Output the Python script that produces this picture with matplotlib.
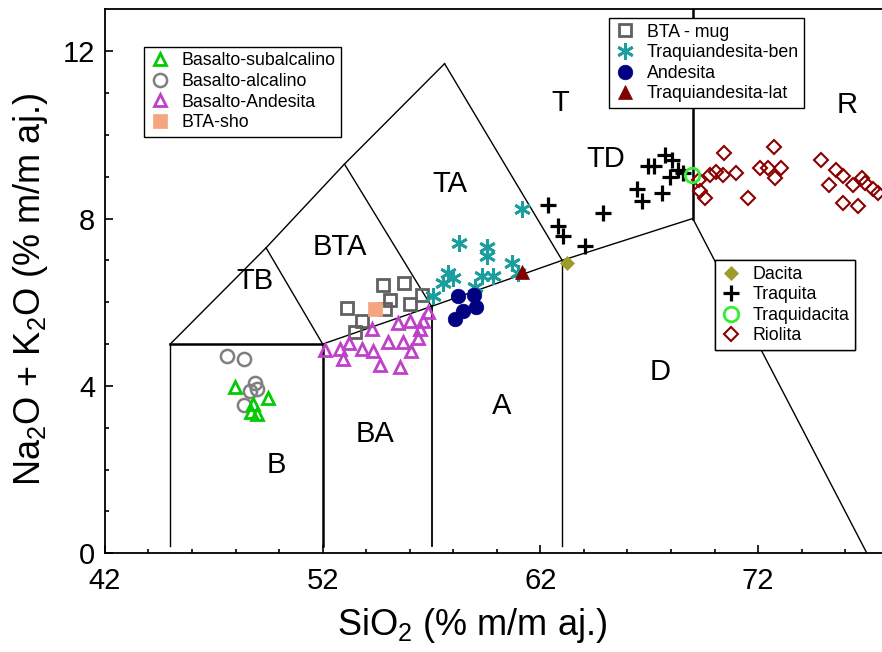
import matplotlib
matplotlib.use("Agg")
import matplotlib.pyplot as plt
from matplotlib.lines import Line2D

plt.rcParams["font.family"] = ["Liberation Sans", "DejaVu Sans"]
plt.rcParams["mathtext.fontset"] = "custom"
plt.rcParams["mathtext.rm"] = "Liberation Sans"
plt.rcParams["mathtext.it"] = "Liberation Sans:italic"
plt.rcParams["mathtext.bf"] = "Liberation Sans:bold"

# --- TAS boundaries (SiO2, Na2O+K2O) ---
tas_lines = [
    ([45, 45], [0.17, 5]),
    ([52, 52], [0.17, 5]),
    ([57, 57], [0.17, 5.9]),
    ([63, 63], [0.17, 7]),
    ([45, 52], [5, 5]),
    ([52, 57, 63, 69], [5, 5.9, 7, 8]),
    ([69, 77], [8, 0]),
    ([69, 69], [8, 13]),
    ([45, 49.4, 53, 57.6], [5, 7.3, 9.3, 11.7]),
    ([49.4, 52], [7.3, 5]),
    ([53, 57], [9.3, 5.9]),
    ([57.6, 63], [11.7, 7]),
]
tas_widths = [1, 1.8, 1.3, 1, 1.8, 1, 1, 1.8, 1, 1, 1, 1]

region_names = ["TB", "BTA", "TA", "T", "TD", "R", "B", "BA", "A", "D"]
region_x = [48.9, 52.8, 57.85, 62.9, 65.0, 76.1, 49.85, 54.4, 60.2, 67.5]
region_y = [6.5, 7.33, 8.82, 10.75, 9.42, 10.72, 2.1, 2.84, 3.53, 4.33]

# --- samples ---
bas_sub_x = [47.97, 49.49, 48.80, 48.71, 48.98]
bas_sub_y = [3.97, 3.70, 3.56, 3.37, 3.32]

bas_alc_x = [47.6, 48.39, 48.89, 48.66, 48.39, 49.0]
bas_alc_y = [4.71, 4.64, 4.06, 3.87, 3.54, 3.92]

bas_and_x = [52.11, 52.79, 52.93, 53.21, 53.81, 54.26, 54.31, 54.63, 55.00,
             55.46, 55.69, 56.01, 55.55, 56.06, 56.38, 56.47, 56.61, 56.84]
bas_and_y = [4.86, 4.88, 4.64, 5.02, 4.88, 5.36, 4.83, 4.49, 5.05,
             5.50, 5.05, 5.55, 4.45, 4.83, 5.14, 5.36, 5.55, 5.77]

bta_mug_x = [53.10, 53.79, 53.48, 54.78, 55.73, 55.09, 56.01, 56.55, 54.86]
bta_mug_y = [5.86, 5.56, 5.28, 6.40, 6.46, 6.06, 5.96, 6.17, 5.84]

bta_sho_x = [54.40]
bta_sho_y = [5.84]

tqa_ben_x = [61.15, 58.26, 59.55, 59.55, 60.70, 57.76, 57.53, 59.32, 59.82,
             59.00, 57.07, 60.97, 57.99]
tqa_ben_y = [8.22, 7.42, 7.33, 7.11, 6.94, 6.70, 6.46, 6.63, 6.63,
             6.37, 6.15, 6.70, 6.58]

andes_x = [58.21, 58.95, 59.04, 58.45, 58.08]
andes_y = [6.15, 6.17, 5.89, 5.79, 5.60]

tqa_lat_x = [61.14]
tqa_lat_y = [6.72]

dacita_x = [63.21]
dacita_y = [6.94]

traq_x = [62.35, 62.81, 63.04, 64.05, 64.88, 66.44, 66.67, 67.59, 66.94,
          67.22, 67.72, 68.05, 67.95, 68.32, 68.55]
traq_y = [8.33, 7.81, 7.59, 7.35, 8.14, 8.70, 8.43, 8.62, 9.25,
          9.25, 9.51, 9.39, 9.00, 9.15, 9.08]

tqd_x = [68.98]
tqd_y = [9.04]

riol_x = [70.43, 72.73, 69.29, 69.57, 69.81, 70.09, 70.37, 70.97, 71.52,
          72.07, 72.44, 73.04, 72.76, 74.91, 75.60, 75.92, 75.28, 76.36,
          76.77, 76.91, 77.28, 75.92, 76.59, 77.51, 69.33]
riol_y = [9.56, 9.70, 8.91, 8.48, 9.05, 9.10, 9.03, 9.08, 8.48,
          9.20, 9.20, 9.20, 8.96, 9.39, 9.15, 9.01, 8.79, 8.79,
          8.96, 8.84, 8.70, 8.36, 8.31, 8.62, 8.65]

asterisk = (6, 2, 0)
styles = {
    "Basalto-subalcalino": dict(marker="^", ms=9, mfc="none", mec="#00cc00", mew=2),
    "Basalto-alcalino": dict(marker="o", ms=9.5, mfc="none", mec="#808080", mew=1.8),
    "Basalto-Andesita": dict(marker="^", ms=9, mfc="none", mec="#c040c8", mew=2),
    "BTA-sho": dict(marker="s", ms=10, mfc="#f5a67e", mec="#f5a67e", mew=0.5),
    "BTA - mug": dict(marker="s", ms=9, mfc="none", mec="#606060", mew=2),
    "Traquiandesita-ben": dict(marker=asterisk, ms=12, mec="#1a9e9e", mew=2),
    "Andesita": dict(marker="o", ms=10.5, mfc="#000080", mec="#000080", mew=0.5),
    "Traquiandesita-lat": dict(marker="^", ms=10.5, mfc="#800000", mec="#800000", mew=0.5),
    "Dacita": dict(marker="D", ms=7, mfc="#9c9c2a", mec="#9c9c2a", mew=0.5),
    "Traquita": dict(marker="+", ms=11, mec="black", mew=2.3),
    "Traquidacita": dict(marker="o", ms=10.5, mfc="none", mec="#33ee33", mew=2),
    "Riolita": dict(marker="D", ms=7, mfc="none", mec="#8b0000", mew=1.5),
}

series = [
    ("Basalto-alcalino", bas_alc_x, bas_alc_y),
    ("Basalto-subalcalino", bas_sub_x, bas_sub_y),
    ("BTA - mug", bta_mug_x, bta_mug_y),
    ("BTA-sho", bta_sho_x, bta_sho_y),
    ("Basalto-Andesita", bas_and_x, bas_and_y),
    ("Traquiandesita-ben", tqa_ben_x, tqa_ben_y),
    ("Andesita", andes_x, andes_y),
    ("Traquiandesita-lat", tqa_lat_x, tqa_lat_y),
    ("Dacita", dacita_x, dacita_y),
    ("Traquita", traq_x, traq_y),
    ("Riolita", riol_x, riol_y),
    ("Traquidacita", tqd_x, tqd_y),
]

fig = plt.figure(figsize=(8.82, 6.52), dpi=100)
ax = fig.add_axes([0.119, 0.1514, 0.8886, 0.8344])

for (xs, ys), lw in zip(tas_lines, tas_widths):
    ax.plot(xs, ys, color="black", lw=lw, zorder=1)

for name, x, y in zip(region_names, region_x, region_y):
    ax.text(x, y, name, fontsize=21, ha="center", va="center", zorder=2)

for name, xs, ys in series:
    ax.plot(xs, ys, ls="none", zorder=3, **styles[name])

ax.set_xlim(42, 78)
ax.set_ylim(0, 13)
ax.set_xticks([42, 52, 62, 72])
ax.set_xticks(range(42, 78, 2), minor=True)
ax.set_yticks([0, 4, 8, 12])
ax.set_yticks(range(0, 13), minor=True)
ax.tick_params(which="both", direction="in", labelsize=21, width=1.2)
ax.tick_params(which="major", length=6)
ax.tick_params(which="minor", length=3)
ax.tick_params(axis="x", which="major", pad=10)
ax.tick_params(axis="y", which="major", pad=7)
for sp in ax.spines.values():
    sp.set_linewidth(1.3)

ax.set_xlabel("SiO$_2$ (% m/m aj.)", fontsize=26)
ax.set_ylabel("Na$_2$O + K$_2$O (% m/m aj.)", fontsize=26)
ax.xaxis.set_label_coords(0.468, -0.097)
ax.yaxis.set_label_coords(-0.07, 0.484)


def make_legend(names, anchor):
    handles = [Line2D([], [], ls="none", **styles[n]) for n in names]
    leg = ax.legend(handles, names, loc="upper left", bbox_to_anchor=anchor,
                    fontsize=12.8, frameon=True, fancybox=False, framealpha=1,
                    edgecolor="black", handlelength=1.2, handletextpad=0.6,
                    labelspacing=0.2, borderpad=0.32, borderaxespad=0)
    leg.get_frame().set_linewidth(1)
    ax.add_artist(leg)
    return leg


make_legend(["Basalto-subalcalino", "Basalto-alcalino", "Basalto-Andesita", "BTA-sho"],
            (0.0498, 0.931))
make_legend(["BTA - mug", "Traquiandesita-ben", "Andesita", "Traquiandesita-lat"],
            (0.643, 0.984))
make_legend(["Dacita", "Traquita", "Traquidacita", "Riolita"],
            (0.778, 0.539))

fig.savefig("out.png", dpi=100)
